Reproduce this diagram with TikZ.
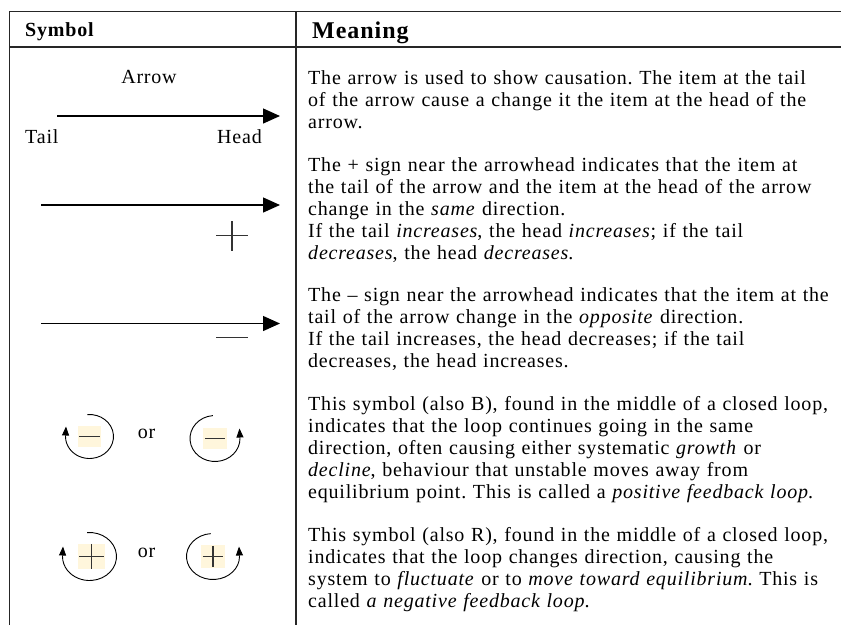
\documentclass[tikz,border=0pt]{standalone}
\usepackage{fontspec}
\setmainfont{Liberation Serif}[LetterSpace=4]
\usetikzlibrary{arrows.meta, positioning}
\definecolor{signfill}{RGB}{255,246,220}
\frenchspacing

\begin{document}
\begin{tikzpicture}[
    x=1pt, y=1pt,
    rule/.style={line width=1.6pt, draw=black!85},
    headcell/.style={inner sep=0pt, anchor=base west, font=\bfseries\fontsize{20}{22}\selectfont},
    meaningtext/.style={inner sep=0pt, anchor=base west, text width=532pt, align=left, font=\fontsize{20}{22}\selectfont},
    symtext/.style={inner sep=0pt, font=\fontsize{20}{22}\selectfont},
    causal/.style={-{Triangle[length=17pt,width=15pt]}, line width=1.3pt},
    signline/.style={line width=1.2pt, draw=black!80},
    signbox/.style={fill=signfill, inner sep=0pt},
    loopline/.style={-{Triangle[length=9pt,width=7pt]}, line width=0.9pt}
]
    \useasboundingbox (0,0) rectangle (841,-625);

    % Table rules
    \draw[rule] (9.5,-625) |- (841,-11.5);
    \draw[rule] (9.5,-47) -- (841,-47);
    \draw[rule] (296,-11.5) -- (296,-625);

    % Header
    \node[headcell] (symhd) at (25,-36) {Symbol};
    \node[headcell, font=\bfseries\fontsize{24}{26}\selectfont] (meanhd) at (312,-38) {Meaning};

    % Row 1: plain arrow
    \node[symtext, anchor=base] (arrowlbl) at (149,-83) {Arrow};
    \node[symtext, anchor=base west] (tail) at (25,-143) {Tail};
    \node[symtext, anchor=base east] (head) at (262,-143) {Head};
    \coordinate (t1) at (57,-116);
    \coordinate (h1) at (280,-116);
    \draw[causal] (t1) -- (h1);

    % Row 2: arrow with +
    \coordinate (t2) at (41,-205);
    \coordinate (h2) at (280,-205);
    \draw[causal] (t2) -- (h2);
    \coordinate (plus) at (232,-235.5);
    \draw[signline] ([xshift=-16pt]plus) -- ([xshift=16pt]plus)
        ([yshift=-15pt]plus) -- ([yshift=15pt]plus);

    % Row 3: arrow with -
    \coordinate (t3) at (41,-323.5);
    \coordinate (h3) at (280,-323.5);
    \draw[causal] (t3) -- (h3);
    \coordinate (minus) at (232,-337.5);
    \draw[signline] ([xshift=-16pt]minus) -- ([xshift=16pt]minus);

    % Row 4: loops with -
    \node[signbox, minimum width=23pt, minimum height=21pt] (negL) at (89.5,-436.5) {};
    \draw[signline, line width=1.3pt] ([xshift=1pt]negL.west) -- ([xshift=-1pt]negL.east);
    \draw[loopline] ([shift={(95:24 and 22)}]negL.center) arc[start angle=95, end angle=-180, x radius=24, y radius=22] -- ++(0.5,10);
    \node[symtext, anchor=base] (or1) at (146.5,-438) {or};
    \node[signbox, minimum width=24pt, minimum height=21pt] (negR) at (215,-438.5) {};
    \draw[signline, line width=1.3pt] ([xshift=2pt]negR.west) -- ([xshift=-2pt]negR.east);
    \draw[loopline] ([shift={(95:25 and 23)}]negR.center) arc[start angle=95, end angle=360, x radius=25, y radius=23] -- ++(-0.5,10);

    % Row 5: loops with +
    \node[signbox, minimum width=27pt, minimum height=25pt] (posL) at (91.5,-556.5) {};
    \draw[signline, line width=1.7pt] ([xshift=1.5pt]posL.west) -- ([xshift=-1.5pt]posL.east)
        (posL.north) -- (posL.south);
    \draw[loopline] ([shift={(95:27 and 24)}, xshift=-2pt]posL.center) arc[start angle=95, end angle=-180, x radius=27, y radius=24] -- ++(0.5,10);
    \node[symtext, anchor=base] (or2) at (146.5,-557) {or};
    \node[signbox, minimum width=24pt, minimum height=23pt] (posR) at (213,-556.5) {};
    \draw[signline, line width=1.7pt] ([xshift=2pt]posR.west) -- ([xshift=-2pt]posR.east)
        ([yshift=-1pt]posR.north) -- ([yshift=1pt]posR.south);
    \draw[loopline] ([shift={(95:26.5 and 23)}]posR.center) arc[start angle=95, end angle=360, x radius=26.5, y radius=23] -- ++(-0.5,10);

    % Meaning column
    \node[meaningtext] (m1) at (308,-84) {The arrow is used to show causation. The item at the tail\\
        of the arrow cause a change it the item at the head of the\\
        arrow.};
    \node[meaningtext] (m2) at (308,-171) {The + sign near the arrowhead indicates that the item at\\
        the tail of the arrow and the item at the head of the arrow\\
        change in the \emph{same} direction.\\
        If the tail \emph{increases}, the head \emph{increases}; if the tail\\
        \emph{decreases}, the head \emph{decreases}.};
    \node[meaningtext] (m3) at (308,-301) {The -- sign near the arrowhead indicates that the item at the\\
        tail of the arrow change in the \emph{opposite} direction.\\
        If the tail increases, the head decreases; if the tail\\
        decreases, the head increases.};
    \node[meaningtext] (m4) at (308,-410) {This symbol (also B), found in the middle of a closed loop,\\
        indicates that the loop continues going in the same\\
        direction, often causing either systematic \emph{growth} or\\
        \emph{decline}, behaviour that unstable moves away from\\
        equilibrium point. This is called a \emph{positive feedback loop}.};
    \node[meaningtext] (m5) at (308,-541) {This symbol (also R), found in the middle of a closed loop,\\
        indicates that the loop changes direction, causing the\\
        system to \emph{fluctuate} or to \emph{move toward equilibrium}. This is\\
        called \emph{a negative feedback loop}.};
\end{tikzpicture}
\end{document}
